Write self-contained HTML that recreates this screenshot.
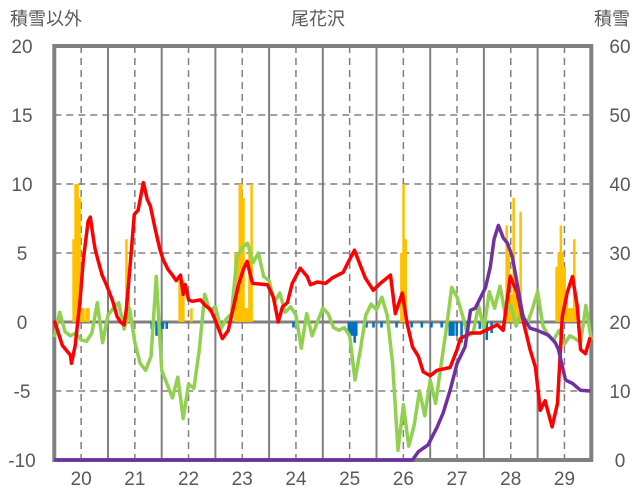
<!DOCTYPE html>
<html><head><meta charset="utf-8">
<style>
html,body{margin:0;padding:0;background:#fff;}
svg{display:block;font-family:"Liberation Sans","Noto Sans CJK JP",sans-serif;}
</style></head>
<body>
<svg id="chart" width="636" height="501" xmlns="http://www.w3.org/2000/svg">
<text x="46" y="25" font-size="18" fill="#595959" text-anchor="middle">積雪以外</text>
<text x="318" y="25" font-size="18" fill="#595959" text-anchor="middle">尾花沢</text>
<text x="612" y="25" font-size="18" fill="#595959" text-anchor="middle">積雪</text>
<g id="grid"></g><g id="bars"></g><g id="frame"></g><g id="lines"></g><g id="labels"></g>
</svg>
<script>
const dayLabels=["20","21","22","23","24","25","26","27","28","29"];
const leftTicks=[20,15,10,5,0,-5,-10];
const rightTicks=[60,50,40,30,20,10,0];
const orangeT=[.335,.372,.41,.447,.484,.52,.577,.615,1.32,1.36,2.31,2.35,2.38,2.53,3.35,3.39,3.43,3.46,3.50,3.54,3.58,3.61,3.65,6.44,6.48,6.52,8.40,8.44,8.47,8.51,8.53,8.57,8.62,8.66,9.33,9.37,9.41,9.44,9.48,9.52,9.55,9.59,9.63,9.66,9.70];
const orangeV=[6,10,10,9,1,1,1,1,6,3.5,3,3,3,1,5,5,10,10,9,1,1,5,10,5,10,6,7,5,2,2,9,2,2,8,4,5,7,5,4,2,1,1,1,6,1];
const blueT=[1.79,1.82,1.88,1.92,1.97,2.0,2.07,4.43,5.46,5.49,5.53,5.57,5.6,5.79,5.92,6.07,6.2,6.35,6.63,6.82,7.0,7.19,7.34,7.37,7.41,7.47,7.56,7.65,7.9,8.03,8.12];
const blueV=[-0.5,-0.5,-1,-0.5,-0.5,-0.5,-0.5,-0.4,-1,-1,-1,-1.5,-1,-0.4,-0.4,-0.4,-0.4,-0.4,-0.4,-0.4,-0.4,-0.4,-1,-1,-1,-1,-1.5,-1,-0.5,-1.3,-0.8];
const redT=[0,.15,.30,.32,.39,.48,.54,.63,.67,.73,.76,.82,.89,.97,1.08,1.17,1.23,1.30,1.34,1.42,1.49,1.56,1.66,1.73,1.79,1.88,1.97,2.03,2.12,2.20,2.27,2.35,2.40,2.44,2.50,2.57,2.72,2.81,2.91,3.00,3.13,3.24,3.43,3.52,3.59,3.69,3.97,4.08,4.17,4.25,4.34,4.43,4.58,4.71,4.77,4.90,5.05,5.18,5.38,5.47,5.59,5.66,5.79,5.94,6.07,6.26,6.35,6.48,6.57,6.67,6.78,6.87,7.00,7.13,7.37,7.50,7.56,7.75,7.93,8.25,8.36,8.49,8.62,8.73,8.86,8.96,9.05,9.14,9.27,9.37,9.46,9.55,9.65,9.74,9.80,9.89,9.98];
const redV=[0.1,-1.7,-2.4,-3,-1.7,1.6,4.5,7.3,7.6,6,5.3,4.4,3.4,2.7,1.6,0.4,0,-0.2,0.9,4.5,7.8,8.1,10.1,8.9,8.4,6.7,5.2,4.5,3.8,3.4,3.0,3.4,2,2.7,1.6,1.5,1.6,1.2,0.9,0.1,-1.2,-0.6,2.7,3.8,4.4,2.8,2.7,1.8,0,1.1,1.4,2.8,3.9,3.3,2.7,2.9,2.8,3.2,3.6,4.3,5.2,4.5,3.2,2.3,2.8,3.4,0.6,2.1,-0.1,-1.8,-2.5,-3.6,-3.9,-3.5,-3.3,-2,-1.2,-0.8,-0.8,-0.2,-0.6,3.3,2.1,0.1,-2,-3.3,-6.4,-5.7,-7.6,-5.9,0.4,2.1,3.3,1.1,-2,-2.3,-1.1];
const greenV=[-1.1,0.7,-0.7,-1.0,-0.8,-1.3,-1.4,-0.8,1.4,-1.5,0.5,1.0,1.4,-0.5,1.0,-1.5,-3.0,-3.5,-2.5,3.3,-3.5,-4.5,-5.5,-4.0,-7.0,-4.5,-4.8,-2.0,2.0,0.8,1.1,-0.5,0.2,0.6,4.7,5.4,5.7,4.3,5.0,3.3,3.0,1.4,2.1,0.7,1.1,0.5,-1.9,0.6,-1.0,0.0,1.0,0.6,-0.4,-0.6,-0.4,-1.0,-4.2,-2.0,0.5,1.3,0.9,1.8,0.5,-3.0,-9.3,-6.0,-9.0,-7.5,-5.0,-6.8,-4.2,-5.9,-3.2,-0.5,2.5,1.8,0.5,-1.0,-0.8,1.2,-0.5,2.2,1.0,2.6,0.5,1.2,-0.3,0.8,-0.2,0.9,2.2,-0.3,-1.0,-1.3,-0.6,-1.6,-1.0,-1.2,-1.5,1.2,-1.3];
const purpleT=[0,6.67,6.78,6.96,7.13,7.24,7.37,7.50,7.65,7.75,7.84,8.03,8.12,8.19,8.27,8.36,8.44,8.53,8.64,8.73,8.86,8.99,9.20,9.33,9.39,9.52,9.65,9.80,9.98];
const purpleV=[0,0,1.2,2.2,4.8,6.8,10.1,14,16.4,21.7,22,25,28,32,34,32.2,31.4,29.4,24.6,20.7,19.1,18.8,18.1,17,16,11.6,11.1,10.1,10];

const X0=54.3,DX=53.7,TOP=46,BOT=460;
const xs=d=>X0+d*DX;
const yl=v=>TOP+(20-v)*(BOT-TOP)/30;
const yr=v=>BOT-v*(BOT-TOP)/60;
const NS="http://www.w3.org/2000/svg";
function mk(tag,attrs,parent){const e=document.createElementNS(NS,tag);for(const k in attrs)e.setAttribute(k,attrs[k]);document.getElementById(parent).appendChild(e);return e;}

leftTicks.forEach(v=>{
  if(v===20||v===-10||v===0)return;
  const g=mk('line',{x1:X0,x2:X0+10*DX,y1:yl(v),y2:yl(v),stroke:'#808080','stroke-width':1.5,'stroke-dasharray':'7,5'},'grid');
  
  
});
for(let i=0;i<10;i++){
  const d=mk('line',{x1:xs(i+.5),x2:xs(i+.5),y1:TOP,y2:BOT,stroke:'#808080','stroke-width':1.5,'stroke-dasharray':'7,5'},'grid');
  
  
  if(i>0){const s=mk('line',{x1:xs(i),x2:xs(i),y1:TOP,y2:BOT,stroke:'#808080','stroke-width':2},'grid');
  
  }
}
const bw=DX/24;
orangeT.forEach((t,i)=>{const v=orangeV[i];
  const r=mk('rect',{x:xs(t),y:yl(v),width:bw+0.3,height:yl(0)-yl(v),fill:'#FFC000'},'bars');
  
  });
blueT.forEach((t,i)=>{const v=blueV[i];
  const r=mk('rect',{x:xs(t),y:yl(0),width:bw+0.3,height:yl(v)-yl(0),fill:'#0070C0'},'bars');
  
  });
const z=mk('line',{x1:X0,x2:X0+10*DX,y1:yl(0),y2:yl(0),stroke:'#808080','stroke-width':3},'grid');


const f=mk('rect',{x:X0,y:TOP,width:10*DX,height:BOT-TOP,fill:'none',stroke:'#808080','stroke-width':4},'frame');


function poly(ts,vs,yf,col,name){
  const pts=ts.map((t,i)=>xs(t).toFixed(1)+','+yf(vs[i]).toFixed(1)).join(' ');
  const p=mk('polyline',{points:pts,fill:'none',stroke:col,'stroke-width':3.5,'stroke-linejoin':'round'},'lines');
  
  
}
poly(greenV.map((v,i)=>i*0.1),greenV,yl,'#92D050','green-series-line');
poly(redT,redV,yl,'#FF0000','red-series-line');
poly(purpleT,purpleV,yr,'#7030A0','snow-depth-line');
leftTicks.forEach(v=>{const t=mk('text',{x:22,y:yl(v)+7,'font-size':19,fill:'#595959','text-anchor':'middle'},'labels');t.textContent=v;
  
  });
rightTicks.forEach(v=>{const t=mk('text',{x:620,y:yr(v)+7,'font-size':19,fill:'#595959','text-anchor':'middle'},'labels');t.textContent=v;
  
  });
dayLabels.forEach((s,i)=>{const t=mk('text',{x:xs(i+.5),y:485,'font-size':19,fill:'#595959','text-anchor':'middle'},'labels');t.textContent=s;
  
  });
</script>
</body></html>
